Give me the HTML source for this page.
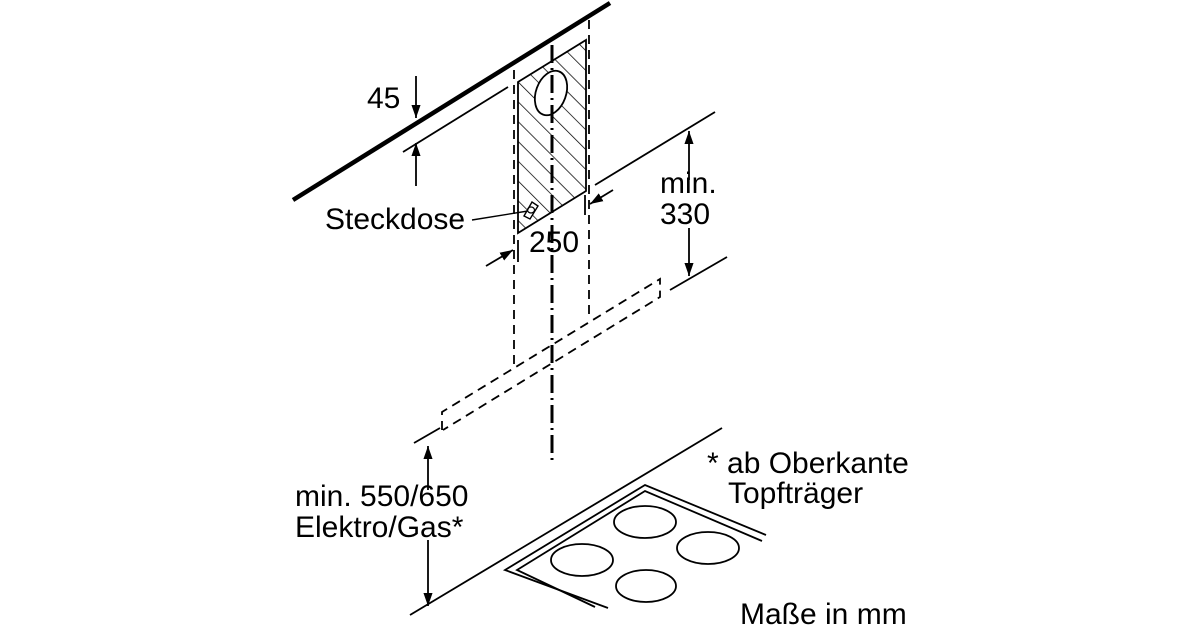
<!DOCTYPE html>
<html><head><meta charset="utf-8"><style>
html,body{margin:0;padding:0;background:#fff;}
svg{display:block}
text{font-family:"Liberation Sans",sans-serif;font-size:30px;fill:#000}
</style></head><body>
<svg width="1200" height="630" viewBox="0 0 1200 630" xmlns="http://www.w3.org/2000/svg">
<defs>
<pattern id="h" patternUnits="userSpaceOnUse" width="14" height="14" patternTransform="rotate(-45)">
<line x1="0" y1="0" x2="0" y2="14" stroke="#000" stroke-width="1.5"/>
</pattern>
<marker id="a" viewBox="0 0 10 10" refX="10" refY="5" markerWidth="13" markerHeight="13" orient="auto" markerUnits="userSpaceOnUse">
<path d="M0,1.5 L10,5 L0,8.5 z" fill="#000"/>
</marker>
</defs>
<g stroke="#000" fill="none">
<line x1="293" y1="200" x2="610" y2="3" stroke-width="4.5"/>
<line x1="403" y1="152" x2="508" y2="87" stroke-width="1.8"/>
<line x1="416" y1="76" x2="416" y2="118" stroke-width="1.8" marker-end="url(#a)"/>
<line x1="416" y1="186" x2="416" y2="143" stroke-width="1.8" marker-end="url(#a)"/>
<polygon points="518,82 586,40 586,191 518,233" fill="url(#h)" stroke-width="1.8"/>
<ellipse cx="551" cy="93" rx="15" ry="23" transform="rotate(20 551 93)" fill="#fff" stroke-width="1.8"/>
<line x1="514" y1="70" x2="514" y2="367" stroke-width="1.8" stroke-dasharray="9,6"/>
<line x1="589" y1="20" x2="589" y2="320" stroke-width="1.8" stroke-dasharray="9,6"/>
<line x1="552" y1="45" x2="552" y2="462" stroke-width="3" stroke-dasharray="18,5,2,5"/>
<line x1="472" y1="220" x2="528" y2="211" stroke-width="1.4"/>
<polygon points="524,216 532,202 538,206 530,219" fill="#fff" stroke-width="1.4"/>
<ellipse cx="531" cy="210" rx="3.5" ry="3" stroke-width="1.2"/>
<line x1="518" y1="240" x2="518" y2="262" stroke-width="1.8"/>
<line x1="585" y1="195" x2="585" y2="215" stroke-width="1.8"/>
<line x1="486" y1="266" x2="513" y2="250" stroke-width="1.8" marker-end="url(#a)"/>
<line x1="613" y1="190" x2="590" y2="204" stroke-width="1.8" marker-end="url(#a)"/>
<line x1="595" y1="185" x2="715" y2="112" stroke-width="1.8"/>
<line x1="670" y1="290" x2="727" y2="257" stroke-width="1.8"/>
<line x1="689" y1="180" x2="689" y2="131" stroke-width="1.8" marker-end="url(#a)"/>
<line x1="689" y1="228" x2="689" y2="276" stroke-width="1.8" marker-end="url(#a)"/>
<path d="M442,430 L442,412 L660,279 L660,297 L443,430" stroke-width="1.8" stroke-dasharray="9,6"/>
<line x1="414" y1="443" x2="440" y2="428" stroke-width="1.8"/>
<line x1="428" y1="490" x2="428" y2="446" stroke-width="1.8" marker-end="url(#a)"/>
<line x1="428" y1="540" x2="428" y2="606" stroke-width="1.8" marker-end="url(#a)"/>
<line x1="410" y1="615" x2="722" y2="428" stroke-width="1.8"/>
<polyline points="608,608 505,570 645,485 766,535" stroke-width="1.8"/>
<polyline points="595,607 517,570 645,491 762,541" stroke-width="1.8"/>
<ellipse cx="645" cy="522" rx="31" ry="16" stroke-width="1.8"/>
<ellipse cx="582" cy="560" rx="31" ry="16" stroke-width="1.8"/>
<ellipse cx="708" cy="548" rx="31" ry="16" stroke-width="1.8"/>
<ellipse cx="646" cy="586" rx="30" ry="16" stroke-width="1.8"/>
</g>
<text x="367" y="108">45</text>
<text x="325" y="229">Steckdose</text>
<text x="529" y="252">250</text>
<text x="660" y="193">min.</text>
<text x="660" y="224">330</text>
<text x="295" y="506">min. 550/650</text>
<text x="295" y="537">Elektro/Gas*</text>
<text x="707" y="473">* ab Oberkante</text>
<text x="728" y="503">Topfträger</text>
<text x="740" y="624">Maße in mm</text>
</svg>
</body></html>
